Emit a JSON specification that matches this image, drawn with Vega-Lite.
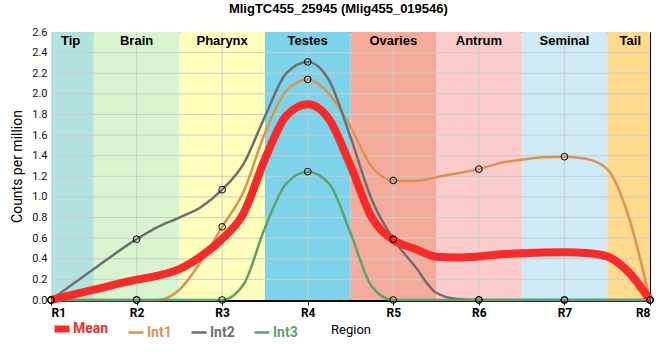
{
  "$schema": "https://vega.github.io/schema/vega-lite/v6.json",
  "width": 599,
  "height": 268,
  "autosize": {"type": "none"},
  "padding": {"left": 51, "top": 32, "right": 10, "bottom": 60},
  "background": "white",
  "title": {"text": "MligTC455_25945 (Mlig455_019546)", "frame": "bounds", "anchor": "middle", "font": "Liberation Sans", "fontSize": 13, "fontWeight": "bold", "color": "#000000", "offset": 10},
  "config": {"view": {"stroke": "#000000", "strokeWidth": 1}},
  "datasets": {
    "bands": [
      {"band": "Tip", "start": 0, "end": 0.5, "mid": 0.23},
      {"band": "Brain", "start": 0.5, "end": 1.5, "mid": 1},
      {"band": "Pharynx", "start": 1.5, "end": 2.5, "mid": 2},
      {"band": "Testes", "start": 2.5, "end": 3.5, "mid": 3},
      {"band": "Ovaries", "start": 3.5, "end": 4.5, "mid": 4},
      {"band": "Antrum", "start": 4.5, "end": 5.5, "mid": 5},
      {"band": "Seminal", "start": 5.5, "end": 6.5, "mid": 6},
      {"band": "Tail", "start": 6.5, "end": 7, "mid": 6.77}
    ],
    "ygrid": [{"g": 0.2}, {"g": 0.4}, {"g": 0.6}, {"g": 0.8}, {"g": 1.0}, {"g": 1.2}, {"g": 1.4}, {"g": 1.6}, {"g": 1.8}, {"g": 2.0}, {"g": 2.2}, {"g": 2.4}],
    "xgrid": [{"g": 1}, {"g": 2}, {"g": 3}, {"g": 4}, {"g": 5}, {"g": 6}],
    "series": [
      {"s": "Mean", "x": 0, "v": 0},
      {"s": "Mean", "x": 0.5, "v": 0.1},
      {"s": "Mean", "x": 1, "v": 0.197},
      {"s": "Mean", "x": 1.25, "v": 0.237},
      {"s": "Mean", "x": 1.5, "v": 0.3},
      {"s": "Mean", "x": 1.75, "v": 0.423},
      {"s": "Mean", "x": 2, "v": 0.593},
      {"s": "Mean", "x": 2.25, "v": 0.84},
      {"s": "Mean", "x": 2.5, "v": 1.367},
      {"s": "Mean", "x": 2.75, "v": 1.787},
      {"s": "Mean", "x": 3, "v": 1.898},
      {"s": "Mean", "x": 3.25, "v": 1.753},
      {"s": "Mean", "x": 3.5, "v": 1.303},
      {"s": "Mean", "x": 3.75, "v": 0.797},
      {"s": "Mean", "x": 4, "v": 0.583},
      {"s": "Mean", "x": 4.25, "v": 0.497},
      {"s": "Mean", "x": 4.5, "v": 0.42},
      {"s": "Mean", "x": 4.75, "v": 0.413},
      {"s": "Mean", "x": 5, "v": 0.423},
      {"s": "Mean", "x": 5.25, "v": 0.443},
      {"s": "Mean", "x": 5.5, "v": 0.453},
      {"s": "Mean", "x": 5.75, "v": 0.462},
      {"s": "Mean", "x": 6, "v": 0.463},
      {"s": "Mean", "x": 6.25, "v": 0.457},
      {"s": "Mean", "x": 6.5, "v": 0.423},
      {"s": "Mean", "x": 6.75, "v": 0.27},
      {"s": "Mean", "x": 7, "v": 0},
      {"s": "Int1", "x": 0, "v": 0},
      {"s": "Int1", "x": 0.5, "v": 0},
      {"s": "Int1", "x": 1, "v": 0},
      {"s": "Int1", "x": 1.25, "v": 0},
      {"s": "Int1", "x": 1.5, "v": 0.1},
      {"s": "Int1", "x": 1.75, "v": 0.37},
      {"s": "Int1", "x": 2, "v": 0.71},
      {"s": "Int1", "x": 2.25, "v": 1.05},
      {"s": "Int1", "x": 2.5, "v": 1.62},
      {"s": "Int1", "x": 2.75, "v": 2.03},
      {"s": "Int1", "x": 3, "v": 2.14},
      {"s": "Int1", "x": 3.25, "v": 2.0},
      {"s": "Int1", "x": 3.5, "v": 1.68},
      {"s": "Int1", "x": 3.75, "v": 1.29},
      {"s": "Int1", "x": 4, "v": 1.16},
      {"s": "Int1", "x": 4.25, "v": 1.155},
      {"s": "Int1", "x": 4.5, "v": 1.19},
      {"s": "Int1", "x": 4.75, "v": 1.23},
      {"s": "Int1", "x": 5, "v": 1.27},
      {"s": "Int1", "x": 5.25, "v": 1.33},
      {"s": "Int1", "x": 5.5, "v": 1.36},
      {"s": "Int1", "x": 5.75, "v": 1.385},
      {"s": "Int1", "x": 6, "v": 1.39},
      {"s": "Int1", "x": 6.25, "v": 1.37},
      {"s": "Int1", "x": 6.5, "v": 1.27},
      {"s": "Int1", "x": 6.75, "v": 0.81},
      {"s": "Int1", "x": 7, "v": 0},
      {"s": "Int2", "x": 0, "v": 0},
      {"s": "Int2", "x": 0.5, "v": 0.3},
      {"s": "Int2", "x": 1, "v": 0.59},
      {"s": "Int2", "x": 1.25, "v": 0.71},
      {"s": "Int2", "x": 1.5, "v": 0.8},
      {"s": "Int2", "x": 1.75, "v": 0.9},
      {"s": "Int2", "x": 2, "v": 1.07},
      {"s": "Int2", "x": 2.25, "v": 1.32},
      {"s": "Int2", "x": 2.5, "v": 1.78},
      {"s": "Int2", "x": 2.75, "v": 2.2},
      {"s": "Int2", "x": 3, "v": 2.31},
      {"s": "Int2", "x": 3.25, "v": 2.13},
      {"s": "Int2", "x": 3.5, "v": 1.58},
      {"s": "Int2", "x": 3.75, "v": 0.97},
      {"s": "Int2", "x": 4, "v": 0.59},
      {"s": "Int2", "x": 4.25, "v": 0.33},
      {"s": "Int2", "x": 4.5, "v": 0.07},
      {"s": "Int2", "x": 4.75, "v": 0.01},
      {"s": "Int2", "x": 5, "v": 0},
      {"s": "Int2", "x": 5.5, "v": 0},
      {"s": "Int2", "x": 6, "v": 0},
      {"s": "Int2", "x": 6.5, "v": 0},
      {"s": "Int2", "x": 7, "v": 0},
      {"s": "Int3", "x": 0, "v": 0},
      {"s": "Int3", "x": 0.5, "v": 0},
      {"s": "Int3", "x": 1, "v": 0},
      {"s": "Int3", "x": 1.5, "v": 0},
      {"s": "Int3", "x": 2, "v": 0},
      {"s": "Int3", "x": 2.25, "v": 0.15},
      {"s": "Int3", "x": 2.5, "v": 0.7},
      {"s": "Int3", "x": 2.75, "v": 1.13},
      {"s": "Int3", "x": 3, "v": 1.245},
      {"s": "Int3", "x": 3.25, "v": 1.13},
      {"s": "Int3", "x": 3.5, "v": 0.65},
      {"s": "Int3", "x": 3.75, "v": 0.13},
      {"s": "Int3", "x": 4, "v": 0},
      {"s": "Int3", "x": 4.5, "v": 0},
      {"s": "Int3", "x": 5, "v": 0},
      {"s": "Int3", "x": 5.5, "v": 0},
      {"s": "Int3", "x": 6, "v": 0},
      {"s": "Int3", "x": 6.5, "v": 0},
      {"s": "Int3", "x": 7, "v": 0}
    ]
  },
  "layer": [
    {
      "data": {"name": "bands"},
      "mark": {"type": "rect"},
      "encoding": {
        "x": {"field": "start", "type": "quantitative", "scale": {"domain": [0, 7], "nice": false, "zero": false},
          "axis": {"values": [0, 1, 2, 3, 4, 5, 6, 7], "labelExpr": "'R' + (datum.value + 1)", "grid": false, "labelOverlap": false,
            "labelFont": "Roboto", "labelFontSize": 12, "labelFontWeight": "bold", "labelColor": "#000000", "labelPadding": 2,
            "domainColor": "#000000", "domainWidth": 3, "tickColor": "#000000", "tickSize": 5, "tickWidth": 1,
            "title": "Region", "titleFont": "Roboto", "titleFontSize": 13, "titleFontWeight": "normal", "titleColor": "#000000", "titlePadding": 5}},
        "x2": {"field": "end"},
        "fill": {"field": "band", "type": "nominal", "legend": null,
          "scale": {"domain": ["Tip", "Brain", "Pharynx", "Testes", "Ovaries", "Antrum", "Seminal", "Tail"],
            "range": ["#b3e3de", "#d8f5d0", "#ffffbb", "#7dd3ea", "#f5ab9c", "#fccbcb", "#ceeaf4", "#fdda8c"]}}
      }
    },
    {
      "data": {"name": "ygrid"},
      "mark": {"type": "rule", "color": "#cccccc", "strokeWidth": 1},
      "encoding": {"y": {"field": "g", "type": "quantitative",
          "scale": {"domain": [0, 2.6], "nice": false, "zero": true},
          "axis": {"values": [0, 0.2, 0.4, 0.6, 0.8, 1.0, 1.2, 1.4, 1.6, 1.8, 2.0, 2.2, 2.4, 2.6], "format": ".1f", "grid": false, "labelOverlap": false, "tickCount": 14,
            "domain": false, "ticks": false, "labelPadding": 4, "labelFont": "Roboto", "labelFontSize": 11, "labelColor": "#111111",
            "title": "Counts per million", "titleFont": "Roboto", "titleFontSize": 14, "titleFontWeight": "normal", "titleColor": "#000000", "titlePadding": 7}}}
    },
    {
      "data": {"name": "xgrid"},
      "mark": {"type": "rule", "color": "#cccccc", "strokeWidth": 1},
      "encoding": {"x": {"field": "g", "type": "quantitative"}}
    },
    {
      "data": {"name": "bands"},
      "mark": {"type": "text", "font": "Liberation Sans", "fontSize": 13, "fontWeight": "bold", "color": "#000000", "baseline": "top", "dy": 3},
      "encoding": {
        "x": {"field": "mid", "type": "quantitative"},
        "y": {"datum": 2.6, "type": "quantitative"},
        "text": {"field": "band"}
      }
    },
    {
      "data": {"name": "series"},
      "transform": [{"filter": "datum.s !== 'Mean'"}],
      "mark": {"type": "line", "interpolate": "monotone", "strokeWidth": 2.5},
      "encoding": {
        "x": {"field": "x", "type": "quantitative"},
        "y": {"field": "v", "type": "quantitative"},
        "stroke": {"field": "s", "type": "nominal"}
      }
    },
    {
      "data": {"name": "series"},
      "transform": [{"filter": "datum.s === 'Mean'"}],
      "mark": {"type": "line", "interpolate": "monotone", "strokeWidth": 8},
      "encoding": {
        "x": {"field": "x", "type": "quantitative"},
        "y": {"field": "v", "type": "quantitative"},
        "stroke": {"field": "s", "type": "nominal",
          "scale": {"domain": ["Mean", "Int1", "Int2", "Int3"], "range": ["#fb2a2a", "#e0914e", "#6e6e6e", "#5ba36b"]},
          "legend": {"orient": "none", "legendX": 4, "legendY": 290, "direction": "horizontal", "title": null,
            "symbolType": "stroke", "symbolSize": 225, "columnPadding": 14, "padding": 0,
            "labelFont": "Roboto", "labelFontSize": 14, "labelFontWeight": "bold", "labelOffset": 4,
            "encode": {
              "labels": {"update": {"fill": {"scale": "stroke", "field": "value"}}},
              "symbols": {"update": {"strokeWidth": {"signal": "datum.value === 'Mean' ? 7 : 2.5"}}}
            }}}
      }
    },
    {
      "data": {"name": "series"},
      "transform": [{"filter": "datum.s !== 'Mean' && datum.x === floor(datum.x)"}],
      "mark": {"type": "point", "shape": "circle", "filled": false, "size": 45, "stroke": "#000000", "strokeWidth": 1, "opacity": 1},
      "encoding": {
        "x": {"field": "x", "type": "quantitative"},
        "y": {"field": "v", "type": "quantitative"}
      }
    }
  ]
}
